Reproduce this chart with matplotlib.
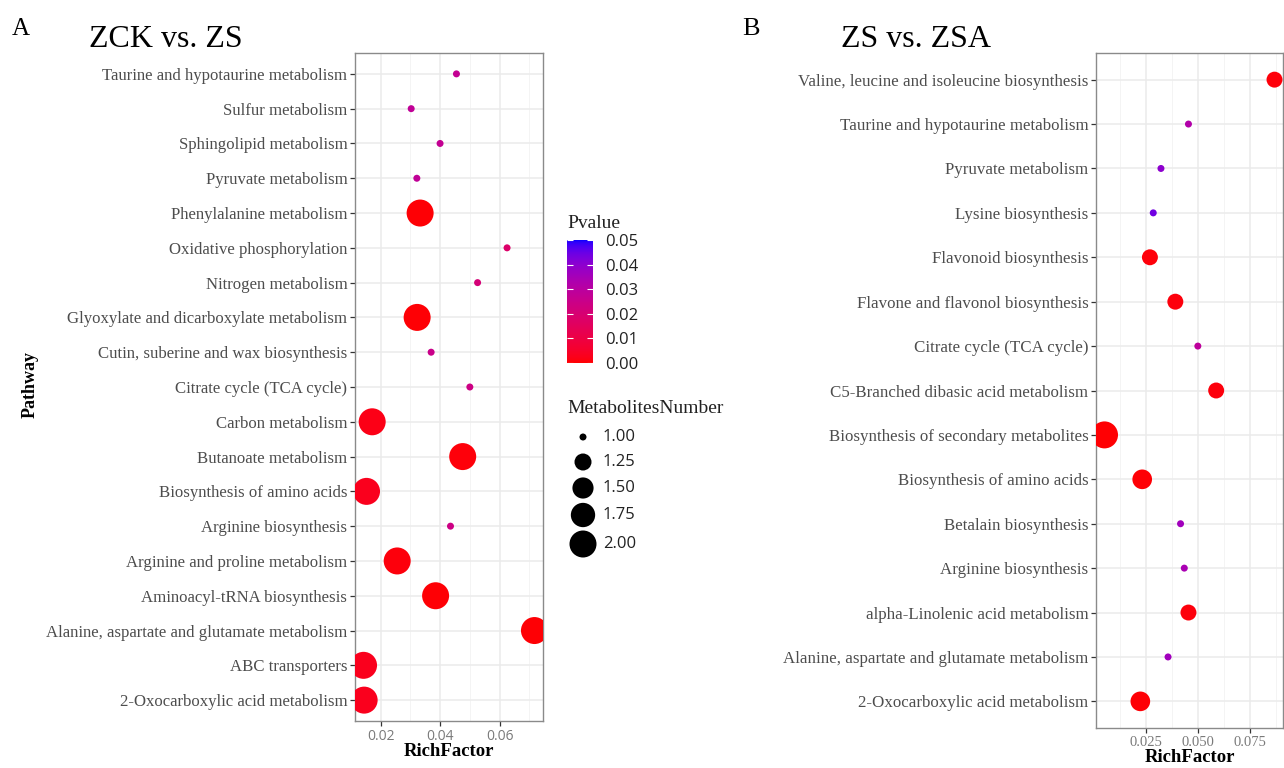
import numpy as np
import matplotlib
matplotlib.use("Agg")
import matplotlib.pyplot as plt
from matplotlib.colors import ListedColormap, Normalize
from matplotlib.cm import ScalarMappable
from matplotlib.ticker import MultipleLocator

# ---------------- data ----------------
A_pathways = [
    "Taurine and hypotaurine metabolism",
    "Sulfur metabolism",
    "Sphingolipid metabolism",
    "Pyruvate metabolism",
    "Phenylalanine metabolism",
    "Oxidative phosphorylation",
    "Nitrogen metabolism",
    "Glyoxylate and dicarboxylate metabolism",
    "Cutin, suberine and wax biosynthesis",
    "Citrate cycle (TCA cycle)",
    "Carbon metabolism",
    "Butanoate metabolism",
    "Biosynthesis of amino acids",
    "Arginine biosynthesis",
    "Arginine and proline metabolism",
    "Aminoacyl-tRNA biosynthesis",
    "Alanine, aspartate and glutamate metabolism",
    "ABC transporters",
    "2-Oxocarboxylic acid metabolism",
]
A_rich = [0.0455, 0.0303, 0.0400, 0.0322, 0.0333, 0.0625, 0.0526, 0.0323, 0.0370,
          0.0500, 0.0172, 0.0476, 0.0153, 0.0435, 0.0256, 0.0385, 0.0717, 0.0143, 0.0145]
A_num = [1, 1, 1, 1, 2, 1, 1, 2, 1, 1, 2, 2, 2, 1, 2, 2, 2, 2, 2]
A_p = [0.027, 0.028, 0.027, 0.028, 0.0005, 0.018, 0.021, 0.0005, 0.025, 0.024,
       0.002, 0.0008, 0.003, 0.024, 0.001, 0.0005, 0.0004, 0.003, 0.003]

B_pathways = [
    "Valine, leucine and isoleucine biosynthesis",
    "Taurine and hypotaurine metabolism",
    "Pyruvate metabolism",
    "Lysine biosynthesis",
    "Flavonoid biosynthesis",
    "Flavone and flavonol biosynthesis",
    "Citrate cycle (TCA cycle)",
    "C5-Branched dibasic acid metabolism",
    "Biosynthesis of secondary metabolites",
    "Biosynthesis of amino acids",
    "Betalain biosynthesis",
    "Arginine biosynthesis",
    "alpha-Linolenic acid metabolism",
    "Alanine, aspartate and glutamate metabolism",
    "2-Oxocarboxylic acid metabolism",
]
B_rich = [0.0868, 0.0455, 0.0323, 0.0286, 0.0270, 0.0392, 0.0500, 0.0588, 0.0052,
          0.0233, 0.0417, 0.0435, 0.0455, 0.0357, 0.0224]
B_num = [2, 1, 1, 1, 2, 2, 1, 2, 6, 3, 1, 1, 2, 1, 3]
B_p = [0.0008, 0.032, 0.040, 0.044, 0.0008, 0.001, 0.029, 0.001, 0.0002, 0.0005,
       0.036, 0.034, 0.001, 0.036, 0.0005]

p_ticks = [0.00, 0.01, 0.02, 0.03, 0.04, 0.05]
size_breaks = [1.00, 1.25, 1.50, 1.75, 2.00]

# ---------------- colour scale (ggplot red->blue, interpolated in CIELAB) ----------------
def lab_to_srgb(lab):
    L, a, b = lab[:, 0], lab[:, 1], lab[:, 2]
    fy = (L + 16) / 116
    fx = fy + a / 500
    fz = fy - b / 200
    d = 6 / 29
    finv = lambda t: np.where(t > d, t ** 3, 3 * d * d * (t - 4 / 29))
    X = 0.95047 * finv(fx); Y = finv(fy); Z = 1.08883 * finv(fz)
    M = np.array([[3.2406, -1.5372, -0.4986],
                  [-0.9689, 1.8758, 0.0415],
                  [0.0557, -0.2040, 1.0570]])
    lin = (M @ np.vstack([X, Y, Z])).T
    lin = np.clip(lin, 0, 1)
    return np.where(lin <= 0.0031308, 12.92 * lin, 1.055 * lin ** (1 / 2.4) - 0.055)

red_lab = np.array([53.2408, 80.0925, 67.2032])
blue_lab = np.array([32.2970, 79.1875, -107.8602])
tt = np.linspace(0, 1, 256)[:, None]
cmap = ListedColormap(np.clip(lab_to_srgb(red_lab + tt * (blue_lab - red_lab)), 0, 1))
norm = Normalize(0.0, 0.05)

def diam_px(v, vmin, vmax):
    v = np.asarray(v, float)
    s = 1 + 5 * np.sqrt((v - vmin) / (vmax - vmin))
    return 3 + 4 * s

def area(dpx):
    return (np.asarray(dpx) * 0.72) ** 2

W, H = 1284, 768
fig = plt.figure(figsize=(W / 100, H / 100), dpi=100)

serif = "Liberation Serif"
sans = "Open Sans"
grey_txt = "#4D4D4D"

def fr(l, t, r, b):
    return [l / W, 1 - b / H, (r - l) / W, (b - t) / H]

def style_axis(ax, names, major, minor, ytick_size):
    n = len(names)
    ax.set_ylim(n - 0.4, -0.6)
    ax.set_yticks(range(n))
    ax.set_yticklabels(names, fontfamily=serif, fontsize=ytick_size, color=grey_txt)
    ax.xaxis.set_minor_locator(MultipleLocator(minor))
    ax.grid(which="major", color="#EBEBEB", linewidth=1.1, zorder=0)
    ax.grid(which="minor", axis="x", color="#F4F4F4", linewidth=0.7, zorder=0)
    ax.set_axisbelow(True)
    ax.tick_params(axis="both", which="major", length=3.5, width=0.9, color="#333333",
                   pad=2)
    ax.tick_params(axis="x", which="minor", length=0)
    for sp in ax.spines.values():
        sp.set_color("#8A8A8A")
        sp.set_linewidth(1.0)

def xlim_expand(vals):
    lo, hi = min(vals), max(vals)
    e = 0.05 * (hi - lo)
    return lo - e, hi + e

# ---------------- panel A ----------------
axA = fig.add_axes(fr(355, 53, 543, 721))
axA.scatter(A_rich, range(len(A_pathways)), s=area(diam_px(A_num, 1, 2)),
            c=A_p, cmap=cmap, norm=norm, linewidths=0, zorder=3)
axA.set_xlim(*xlim_expand(A_rich))
axA.set_xticks([0.02, 0.04, 0.06])
axA.set_xticklabels(["0.02", "0.04", "0.06"], fontfamily=sans, fontsize=10,
                    color="#7A7A7A")
style_axis(axA, A_pathways, 0.02, 0.01, 12.1)
fig.text(449 / W, 1 - 752 / H, "RichFactor", fontfamily=serif, fontweight="bold",
         fontsize=13.5, ha="center", va="center")
fig.text(30 / W, 1 - 385 / H, "Pathway", fontfamily=serif, fontweight="bold",
         fontsize=13, ha="center", va="center", rotation=90)

# ---------------- panel B ----------------
axB = fig.add_axes(fr(1096, 53, 1283, 728))
axB.scatter(B_rich, range(len(B_pathways)), s=area(diam_px(B_num, 1, max(B_num))),
            c=B_p, cmap=cmap, norm=norm, linewidths=0, zorder=3)
axB.set_xlim(*xlim_expand(B_rich))
axB.set_xticks([0.025, 0.050, 0.075])
axB.set_xticklabels(["0.025", "0.050", "0.075"], fontfamily=serif, fontsize=10.5,
                    color="#7A7A7A")
style_axis(axB, B_pathways, 0.025, 0.0125, 12.2)
fig.text(1190 / W, 1 - 757 / H, "RichFactor", fontfamily=serif, fontweight="bold",
         fontsize=13.5, ha="center", va="center")

# ---------------- colour bar ----------------
cax = fig.add_axes(fr(567, 240, 593, 363))
cb = fig.colorbar(ScalarMappable(norm=norm, cmap=cmap), cax=cax, ticks=p_ticks)
cb.outline.set_visible(False)
cb.ax.set_yticklabels([f"{t:.2f}" for t in p_ticks], fontfamily=sans, fontsize=12,
                      color="#222222")
cb.ax.tick_params(which="major", direction="in", color="white", length=4, width=0.8,
                  left=True, right=True, pad=9)
cb.ax.tick_params(which="minor", length=0)
fig.text(567 / W, 1 - 228 / H, "Pvalue", fontfamily=serif, fontsize=14,
         va="baseline", ha="left", color="#222222")

# ---------------- size legend ----------------
lax = fig.add_axes([0, 0, 1, 1], facecolor="none")
lax.set_xlim(0, W); lax.set_ylim(H, 0); lax.axis("off")
fig.text(567 / W, 1 - 413 / H, "MetabolitesNumber", fontfamily=serif, fontsize=14,
         va="baseline", ha="left", color="#222222")
leg_y = [437, 462, 488, 515, 544]
lax.scatter([583] * len(size_breaks), leg_y, s=area(diam_px(size_breaks, 1, 2)),
            color="black", linewidths=0)
for yy, v in zip(leg_y, size_breaks):
    lax.text(603, yy, f"{v:.2f}", fontfamily=sans, fontsize=12, va="center",
             ha="left", color="#222222")

# ---------------- panel titles ----------------
fig.text(12 / W, 1 - 35 / H, "A", fontfamily=serif, fontsize=18, va="baseline")
fig.text(89 / W, 1 - 47 / H, "ZCK vs. ZS", fontfamily=serif, fontsize=23, va="baseline")
fig.text(742 / W, 1 - 35 / H, "B", fontfamily=serif, fontsize=19, va="baseline")
fig.text(841 / W, 1 - 47 / H, "ZS vs. ZSA", fontfamily=serif, fontsize=23, va="baseline")

fig.savefig("out.png", dpi=100, facecolor="white")
